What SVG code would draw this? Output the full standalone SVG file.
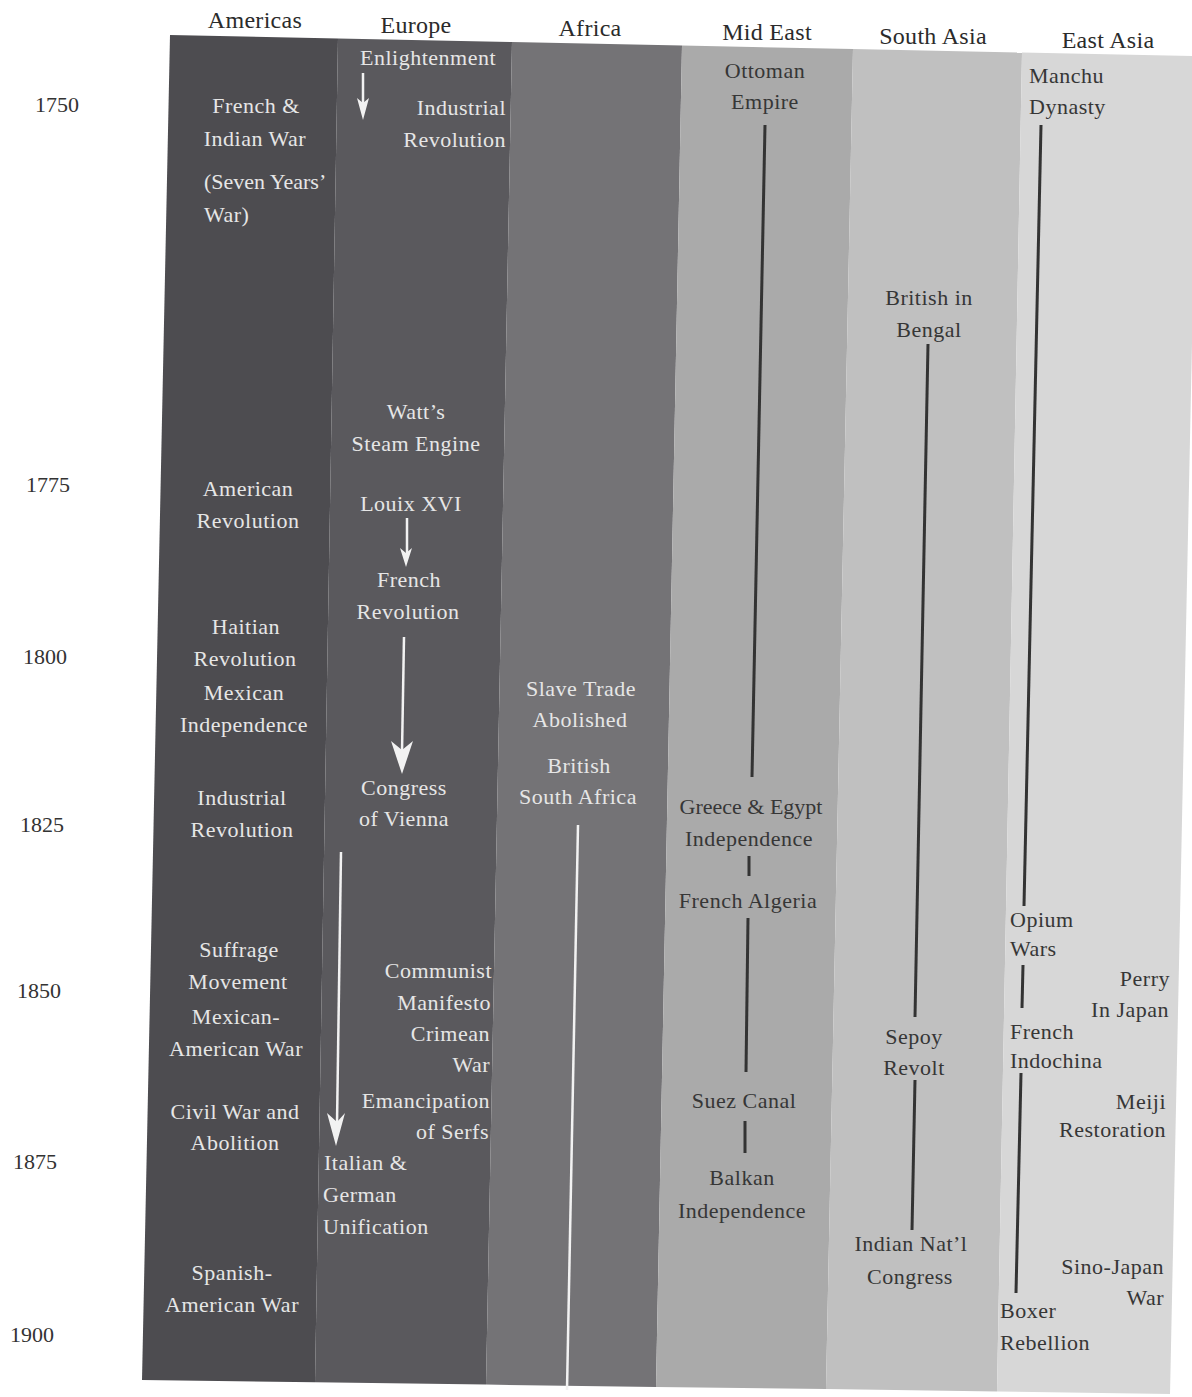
<svg xmlns="http://www.w3.org/2000/svg" width="1192" height="1397" viewBox="0 0 1192 1397">
<style>
text{font-family:"Liberation Serif","DejaVu Serif",serif;}
.h{font-size:24px;fill:#2b2b2b;text-anchor:middle;letter-spacing:0.3px}
.y{font-size:22px;fill:#333;text-anchor:middle}
.w{font-size:22px;fill:#e6e6e6;text-anchor:middle;letter-spacing:0.5px}
.d{font-size:22px;fill:#363636;text-anchor:middle;letter-spacing:0.5px}
.s{text-anchor:start}
.e{text-anchor:end}
.t{letter-spacing:0px}
.wl{stroke:#f2f2f2;stroke-width:2.5;fill:none}
.dl{stroke:#333;stroke-width:3;fill:none}
.ah{fill:#f2f2f2}
</style>
<rect width="1192" height="1397" fill="#ffffff"/>
<g id="columns">
<polygon id="col-americas" points="170,35 338,38.4 315,1382.3 142,1380" fill="#4d4c50"/>
<polygon id="col-europe" points="338,38.4 512,42 486,1384.6 315,1382.3" fill="#5a595d"/>
<polygon id="col-africa" points="512,42 682,45.5 656,1387 486,1384.6" fill="#747376"/>
<polygon id="col-mideast" points="682,45.5 853,49 826,1389 656,1387" fill="#aaaaaa"/>
<polygon id="col-southasia" points="853,49 1022,52.5 997,1391.5 826,1389" fill="#c0c0c0"/>
<polygon id="col-eastasia" points="1022,52.5 1198,56 1170,1394 997,1391.5" fill="#d7d7d7"/>
</g>
<g id="headers">
<text class="h" x="255" y="28">Americas</text>
<text class="h" x="416" y="33">Europe</text>
<text class="h" x="590" y="36">Africa</text>
<text class="h" x="767" y="40">Mid East</text>
<text class="h" x="933" y="44">South Asia</text>
<text class="h" x="1108" y="48">East Asia</text>
</g>
<g id="years">
<text class="y" x="57" y="112">1750</text>
<text class="y" x="48" y="492">1775</text>
<text class="y" x="45" y="664">1800</text>
<text class="y" x="42" y="832">1825</text>
<text class="y" x="39" y="998">1850</text>
<text class="y" x="35" y="1169">1875</text>
<text class="y" x="32" y="1342">1900</text>
</g>
<g id="connectors">
<line class="wl" x1="363" y1="73" x2="363" y2="104"/>
<path class="ah" d="M363,120 L357,98 L363,103 L369,98 Z"/>
<line class="wl" x1="407" y1="518" x2="407" y2="554"/>
<path class="ah" d="M406,567 L400,548 L406,553 L412,548 Z"/>
<line class="wl" x1="404" y1="637" x2="402" y2="752"/>
<path class="ah" d="M402,774 L391,741 L402,750 L413,741 Z"/>
<line class="wl" x1="341" y1="852" x2="337" y2="1124"/>
<path class="ah" d="M336,1146 L327,1113 L337,1122 L345,1113 Z"/>
<line class="wl" x1="578" y1="825" x2="567" y2="1390"/>
<line class="dl" x1="765" y1="125" x2="752" y2="777"/>
<line class="dl" x1="749" y1="856" x2="749" y2="876"/>
<line class="dl" x1="748" y1="918" x2="746" y2="1072"/>
<line class="dl" x1="745" y1="1121" x2="745" y2="1153"/>
<line class="dl" x1="928" y1="344" x2="915" y2="1017"/>
<line class="dl" x1="915" y1="1080" x2="912" y2="1230"/>
<line class="dl" x1="1041" y1="125" x2="1024" y2="906"/>
<line class="dl" x1="1023" y1="965" x2="1022" y2="1008"/>
<line class="dl" x1="1021" y1="1073" x2="1016" y2="1293"/>
</g>
<g id="americas">
<text class="w" x="256" y="113">French &amp;</text>
<text class="w" x="255" y="146">Indian War</text>
<text class="w s t" x="204" y="189">(Seven Years’</text>
<text class="w s" x="204" y="222">War)</text>
<text class="w" x="248" y="496">American</text>
<text class="w" x="248" y="528">Revolution</text>
<text class="w" x="246" y="634">Haitian</text>
<text class="w" x="245" y="666">Revolution</text>
<text class="w" x="244" y="700">Mexican</text>
<text class="w" x="244" y="732">Independence</text>
<text class="w" x="242" y="805">Industrial</text>
<text class="w" x="242" y="837">Revolution</text>
<text class="w" x="239" y="957">Suffrage</text>
<text class="w" x="238" y="989">Movement</text>
<text class="w" x="236" y="1024">Mexican-</text>
<text class="w" x="236" y="1056">American War</text>
<text class="w" x="235" y="1119">Civil War and</text>
<text class="w" x="235" y="1150">Abolition</text>
<text class="w" x="232" y="1280">Spanish-</text>
<text class="w" x="232" y="1312">American War</text>
</g>
<g id="europe">
<text class="w" x="428" y="65">Enlightenment</text>
<text class="w e" x="506" y="115">Industrial</text>
<text class="w e" x="506" y="147">Revolution</text>
<text class="w" x="416" y="419">Watt’s</text>
<text class="w" x="416" y="451">Steam Engine</text>
<text class="w" x="411" y="511">Louix XVI</text>
<text class="w" x="409" y="587">French</text>
<text class="w" x="408" y="619">Revolution</text>
<text class="w" x="404" y="795">Congress</text>
<text class="w" x="404" y="826">of Vienna</text>
<text class="w e" x="492" y="978">Communist</text>
<text class="w e" x="491" y="1010">Manifesto</text>
<text class="w e" x="490" y="1041">Crimean</text>
<text class="w e" x="490" y="1072">War</text>
<text class="w e" x="490" y="1108">Emancipation</text>
<text class="w e" x="489" y="1139">of Serfs</text>
<text class="w s" x="324" y="1170">Italian &amp;</text>
<text class="w s" x="323" y="1202">German</text>
<text class="w s" x="323" y="1234">Unification</text>
</g>
<g id="africa">
<text class="w" x="581" y="696">Slave Trade</text>
<text class="w" x="580" y="727">Abolished</text>
<text class="w" x="579" y="773">British</text>
<text class="w" x="578" y="804">South Africa</text>
</g>
<g id="mideast">
<text class="d" x="765" y="78">Ottoman</text>
<text class="d" x="765" y="109">Empire</text>
<text class="d t" x="751" y="814">Greece &amp; Egypt</text>
<text class="d" x="749" y="846">Independence</text>
<text class="d" x="748" y="908">French Algeria</text>
<text class="d" x="744" y="1108">Suez Canal</text>
<text class="d" x="742" y="1185">Balkan</text>
<text class="d" x="742" y="1218">Independence</text>
</g>
<g id="southasia">
<text class="d" x="929" y="305">British in</text>
<text class="d" x="929" y="337">Bengal</text>
<text class="d" x="914" y="1044">Sepoy</text>
<text class="d" x="914" y="1075">Revolt</text>
<text class="d" x="911" y="1251">Indian Nat’l</text>
<text class="d" x="910" y="1284">Congress</text>
</g>
<g id="eastasia">
<text class="d s" x="1029" y="83">Manchu</text>
<text class="d s" x="1029" y="114">Dynasty</text>
<text class="d s" x="1010" y="927">Opium</text>
<text class="d s" x="1010" y="956">Wars</text>
<text class="d e" x="1170" y="986">Perry</text>
<text class="d e" x="1169" y="1017">In Japan</text>
<text class="d s" x="1010" y="1039">French</text>
<text class="d s" x="1010" y="1068">Indochina</text>
<text class="d e" x="1166" y="1109">Meiji</text>
<text class="d e" x="1166" y="1137">Restoration</text>
<text class="d e" x="1164" y="1274">Sino-Japan</text>
<text class="d e" x="1164" y="1305">War</text>
<text class="d s" x="1000" y="1318">Boxer</text>
<text class="d s" x="1000" y="1350">Rebellion</text>
</g>
</svg>
